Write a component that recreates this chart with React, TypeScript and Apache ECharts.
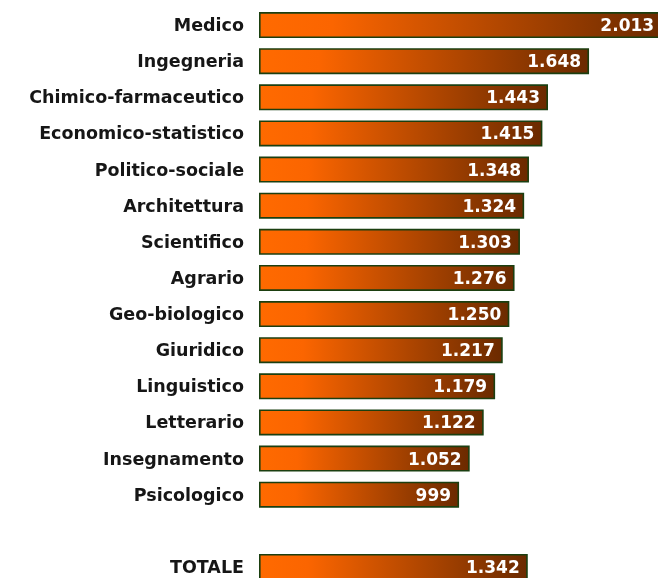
import React, { useEffect, useRef } from "react";
import * as echarts from "echarts";

const categories = [
  "Medico",
  "Ingegneria",
  "Chimico-farmaceutico",
  "Economico-statistico",
  "Politico-sociale",
  "Architettura",
  "Scientifico",
  "Agrario",
  "Geo-biologico",
  "Giuridico",
  "Linguistico",
  "Letterario",
  "Insegnamento",
  "Psicologico",
  "",
  "TOTALE",
];

const values: (number | null)[] = [
  2013, 1648, 1443, 1415, 1348, 1324, 1303, 1276, 1250, 1217, 1179, 1122, 1052, 999, null, 1342,
];

const fmt = (v: number) => {
  const s = String(Math.round(v));
  return s.replace(/\B(?=(\d{3})+(?!\d))/g, ".");
};

export default function App() {
  const ref = useRef<HTMLDivElement>(null);
  useEffect(() => {
    if (!ref.current) return;
    const chart = echarts.init(ref.current, null, { renderer: "svg" });
    const fill = new echarts.graphic.LinearGradient(0, 0, 1, 0, [
      { offset: 0, color: "#ff6a00" },
      { offset: 0.18, color: "#fb6500" },
      { offset: 1, color: "#6b2a00" },
    ]);
    chart.setOption({
      animation: false,
      grid: { left: 259, width: 440, top: 7, height: 578, containLabel: false },
      xAxis: {
        type: "value",
        min: 0,
        max: 2197,
        show: false,
      },
      yAxis: {
        type: "category",
        inverse: true,
        data: categories,
        axisLine: { show: false },
        axisTick: { show: false },
        splitLine: { show: false },
        axisLabel: {
          margin: 15,
          color: "#161616",
          fontFamily: "DejaVu Sans",
          fontWeight: "bold",
          fontSize: 17.5,
        },
      },
      series: [
        {
          type: "bar",
          data: values,
          barWidth: 26,
          itemStyle: {
            color: fill,
            borderColor: "#1b3f10",
            borderWidth: 1.6,
          },
          label: {
            show: true,
            position: "insideRight",
            distance: 8,
            color: "#ffffff",
            fontFamily: "DejaVu Sans",
            fontWeight: "bold",
            fontSize: 17,
            formatter: (p: any) => (p.value == null ? "" : fmt(p.value)),
          },
        },
      ],
    });
    return () => chart.dispose();
  }, []);
  return (
    <div
      style={{
        position: "fixed",
        left: 0,
        top: 0,
        width: 658,
        height: 578,
        overflow: "hidden",
      }}
    >
      <div ref={ref} style={{ width: 700, height: 600 }} />
    </div>
  );
}
